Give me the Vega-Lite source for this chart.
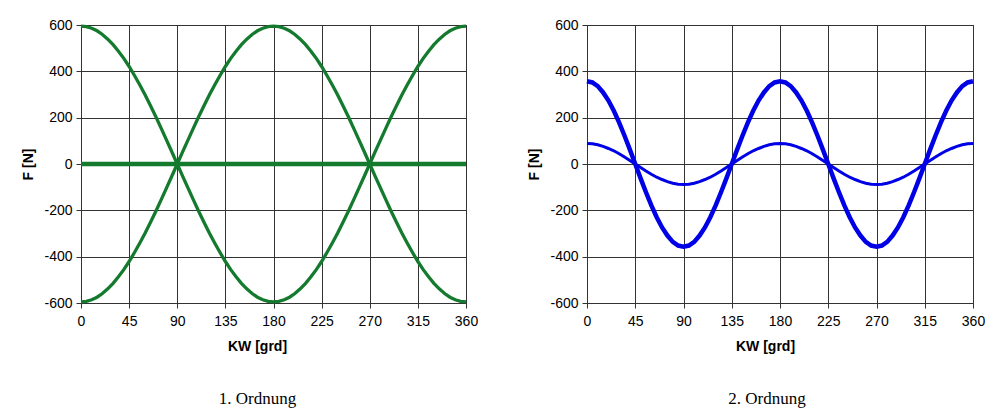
{
  "$schema": "https://vega.github.io/schema/vega-lite/v6.json",
  "background": "white",
  "padding": {"left": 21, "top": 17, "right": 5, "bottom": 5},
  "spacing": 48,
  "config": {
    "view": {"stroke": "#333333", "strokeWidth": 1},
    "axis": {
      "labelFont": "Liberation Sans", "labelFontSize": 14, "labelColor": "#000000",
      "labelExpr": "replace(datum.label, '\u2212', '-')",
      "titleFont": "Liberation Sans", "titleFontSize": 14, "titleFontWeight": "bold", "titleColor": "#000000",
      "gridColor": "#333333", "gridWidth": 1, "gridOpacity": 1,
      "tickColor": "#333333", "tickSize": 5, "domainColor": "#333333"
    },
    "title": {"font": "Liberation Serif", "fontSize": 17, "fontWeight": "normal", "color": "#000000"}
  },
  "datasets": {
    "left": [
      {"x":0,"a":595,"b":-595,"z":0},{"x":5,"a":593,"b":-593},{"x":10,"a":586,"b":-586},{"x":15,"a":575,"b":-575},{"x":20,"a":559,"b":-559},{"x":25,"a":539,"b":-539},{"x":30,"a":515,"b":-515},{"x":35,"a":487,"b":-487},{"x":40,"a":456,"b":-456},{"x":45,"a":421,"b":-421},{"x":50,"a":382,"b":-382},{"x":55,"a":341,"b":-341},{"x":60,"a":298,"b":-298},{"x":65,"a":251,"b":-251},{"x":70,"a":204,"b":-204},{"x":75,"a":154,"b":-154},{"x":80,"a":103,"b":-103},{"x":85,"a":52,"b":-52},{"x":90,"a":0,"b":0},
      {"x":95,"a":-52,"b":52},{"x":100,"a":-103,"b":103},{"x":105,"a":-154,"b":154},{"x":110,"a":-204,"b":204},{"x":115,"a":-251,"b":251},{"x":120,"a":-298,"b":298},{"x":125,"a":-341,"b":341},{"x":130,"a":-382,"b":382},{"x":135,"a":-421,"b":421},{"x":140,"a":-456,"b":456},{"x":145,"a":-487,"b":487},{"x":150,"a":-515,"b":515},{"x":155,"a":-539,"b":539},{"x":160,"a":-559,"b":559},{"x":165,"a":-575,"b":575},{"x":170,"a":-586,"b":586},{"x":175,"a":-593,"b":593},{"x":180,"a":-595,"b":595},
      {"x":185,"a":-593,"b":593},{"x":190,"a":-586,"b":586},{"x":195,"a":-575,"b":575},{"x":200,"a":-559,"b":559},{"x":205,"a":-539,"b":539},{"x":210,"a":-515,"b":515},{"x":215,"a":-487,"b":487},{"x":220,"a":-456,"b":456},{"x":225,"a":-421,"b":421},{"x":230,"a":-382,"b":382},{"x":235,"a":-341,"b":341},{"x":240,"a":-298,"b":298},{"x":245,"a":-251,"b":251},{"x":250,"a":-204,"b":204},{"x":255,"a":-154,"b":154},{"x":260,"a":-103,"b":103},{"x":265,"a":-52,"b":52},{"x":270,"a":0,"b":0},
      {"x":275,"a":52,"b":-52},{"x":280,"a":103,"b":-103},{"x":285,"a":154,"b":-154},{"x":290,"a":204,"b":-204},{"x":295,"a":251,"b":-251},{"x":300,"a":298,"b":-298},{"x":305,"a":341,"b":-341},{"x":310,"a":382,"b":-382},{"x":315,"a":421,"b":-421},{"x":320,"a":456,"b":-456},{"x":325,"a":487,"b":-487},{"x":330,"a":515,"b":-515},{"x":335,"a":539,"b":-539},{"x":340,"a":559,"b":-559},{"x":345,"a":575,"b":-575},{"x":350,"a":586,"b":-586},{"x":355,"a":593,"b":-593},{"x":360,"a":595,"b":-595,"z":0}
    ],
    "right": [
      {"x":0,"T":357,"t":88},{"x":5,"T":352,"t":87},{"x":10,"T":336,"t":83},{"x":15,"T":309,"t":76},{"x":20,"T":274,"t":67},{"x":25,"T":230,"t":57},{"x":30,"T":179,"t":44},{"x":35,"T":122,"t":30},{"x":40,"T":62,"t":15},{"x":45,"T":0,"t":0},
      {"x":50,"T":-62,"t":-15},{"x":55,"T":-122,"t":-30},{"x":60,"T":-179,"t":-44},{"x":65,"T":-230,"t":-57},{"x":70,"T":-274,"t":-67},{"x":75,"T":-309,"t":-76},{"x":80,"T":-336,"t":-83},{"x":85,"T":-352,"t":-87},{"x":90,"T":-357,"t":-88},
      {"x":95,"T":-352,"t":-87},{"x":100,"T":-336,"t":-83},{"x":105,"T":-309,"t":-76},{"x":110,"T":-274,"t":-67},{"x":115,"T":-230,"t":-57},{"x":120,"T":-179,"t":-44},{"x":125,"T":-122,"t":-30},{"x":130,"T":-62,"t":-15},{"x":135,"T":0,"t":0},
      {"x":140,"T":62,"t":15},{"x":145,"T":122,"t":30},{"x":150,"T":179,"t":44},{"x":155,"T":230,"t":57},{"x":160,"T":274,"t":67},{"x":165,"T":309,"t":76},{"x":170,"T":336,"t":83},{"x":175,"T":352,"t":87},{"x":180,"T":357,"t":88},
      {"x":185,"T":352,"t":87},{"x":190,"T":336,"t":83},{"x":195,"T":309,"t":76},{"x":200,"T":274,"t":67},{"x":205,"T":230,"t":57},{"x":210,"T":179,"t":44},{"x":215,"T":122,"t":30},{"x":220,"T":62,"t":15},{"x":225,"T":0,"t":0},
      {"x":230,"T":-62,"t":-15},{"x":235,"T":-122,"t":-30},{"x":240,"T":-179,"t":-44},{"x":245,"T":-230,"t":-57},{"x":250,"T":-274,"t":-67},{"x":255,"T":-309,"t":-76},{"x":260,"T":-336,"t":-83},{"x":265,"T":-352,"t":-87},{"x":270,"T":-357,"t":-88},
      {"x":275,"T":-352,"t":-87},{"x":280,"T":-336,"t":-83},{"x":285,"T":-309,"t":-76},{"x":290,"T":-274,"t":-67},{"x":295,"T":-230,"t":-57},{"x":300,"T":-179,"t":-44},{"x":305,"T":-122,"t":-30},{"x":310,"T":-62,"t":-15},{"x":315,"T":0,"t":0},
      {"x":320,"T":62,"t":15},{"x":325,"T":122,"t":30},{"x":330,"T":179,"t":44},{"x":335,"T":230,"t":57},{"x":340,"T":274,"t":67},{"x":345,"T":309,"t":76},{"x":350,"T":336,"t":83},{"x":355,"T":352,"t":87},{"x":360,"T":357,"t":88}
    ]
  },
  "hconcat": [
    {
      "width": 385, "height": 278,
      "title": {"text": "1. Ordnung", "orient": "bottom", "anchor": "middle", "frame": "group", "dx": -16, "offset": 38},
      "data": {"name": "left"},
      "encoding": {
        "x": {"field": "x", "type": "quantitative", "scale": {"domain": [0, 360], "nice": false, "zero": false},
              "axis": {"values": [0,45,90,135,180,225,270,315,360], "title": "KW [grd]", "titleX": 176, "labelPadding": 6, "titlePadding": 11, "labelFlush": false}}
      },
      "layer": [
        {"mark": {"type": "line", "color": "#137a2e", "strokeWidth": 3.3},
         "encoding": {"y": {"field": "a", "type": "quantitative", "scale": {"domain": [-600, 600], "nice": false},
              "axis": {"values": [-600,-400,-200,0,200,400,600], "title": "F [N]", "labelPadding": 4, "titlePadding": 8}}}},
        {"mark": {"type": "line", "color": "#137a2e", "strokeWidth": 3.3},
         "encoding": {"y": {"field": "b", "type": "quantitative"}}},
        {"mark": {"type": "line", "color": "#137a2e", "strokeWidth": 4.5},
         "transform": [{"filter": "isValid(datum.z)"}],
         "encoding": {"y": {"field": "z", "type": "quantitative"}}}
      ]
    },
    {
      "width": 386, "height": 278,
      "title": {"text": "2. Ordnung", "orient": "bottom", "anchor": "middle", "frame": "group", "dx": -13, "offset": 38},
      "data": {"name": "right"},
      "encoding": {
        "x": {"field": "x", "type": "quantitative", "scale": {"domain": [0, 360], "nice": false, "zero": false},
              "axis": {"values": [0,45,90,135,180,225,270,315,360], "title": "KW [grd]", "titleX": 178, "labelPadding": 6, "titlePadding": 11, "labelFlush": false}}
      },
      "layer": [
        {"mark": {"type": "line", "color": "#0000e6", "strokeWidth": 3},
         "encoding": {"y": {"field": "t", "type": "quantitative", "scale": {"domain": [-600, 600], "nice": false},
              "axis": {"values": [-600,-400,-200,0,200,400,600], "title": "F [N]", "labelPadding": 4, "titlePadding": 8}}}},
        {"mark": {"type": "line", "color": "#0000e6", "strokeWidth": 4.5},
         "encoding": {"y": {"field": "T", "type": "quantitative"}}}
      ]
    }
  ]
}
